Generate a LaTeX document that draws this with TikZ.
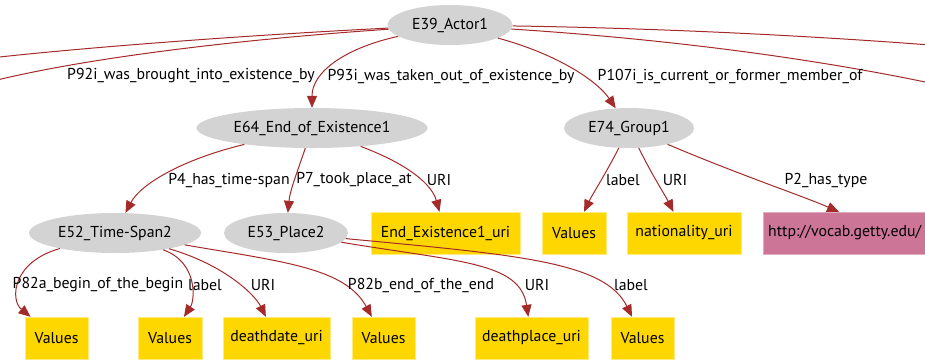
\documentclass[tikz,border=0pt]{standalone}
\usepackage{fontspec}
\setmainfont{PT Sans}
\usetikzlibrary{shapes.geometric,arrows.meta}
\definecolor{edgered}{RGB}{165,42,42}
\definecolor{clsgray}{RGB}{211,211,211}
\definecolor{litgold}{RGB}{255,215,0}
\definecolor{uripink}{RGB}{204,117,150}
\tikzset{
cls/.style={ellipse,fill=clsgray,minimum height=40pt,inner sep=0pt},
lit/.style={rectangle,fill=litgold,draw=litgold!50!white,minimum height=42pt,inner sep=0pt},
link/.style={draw=edgered,line width=1pt,-{Triangle[length=12pt,width=10pt]}},
wire/.style={draw=edgered,line width=1pt},
tag/.style={inner sep=0pt}
}
\begin{document}
\begin{tikzpicture}[x=1pt,y=-1pt,font=\fontsize{15.8}{18}\selectfont]
\useasboundingbox (0,0) rectangle (925,360);
\clip (0,0) rectangle (925,360);
% classes
\node[cls,minimum width=125pt] (A) at (450,25) {E39\_Actor1};
\node[cls,minimum width=231pt] (E) at (312,128) {E64\_End\_of\_Existence1};
\node[cls,minimum width=130pt] (G) at (629,128) {E74\_Group1};
\node[cls,minimum width=172pt] (T) at (115,233) {E52\_Time-Span2};
\node[cls,minimum width=124pt] (S) at (286,233) {E53\_Place2};
% literals
\node[lit,minimum width=149pt] (Eu) at (445.5,233) {End\_Existence1\_uri};
\node[lit,minimum width=64pt] (Gv) at (574,233) {Values};
\node[lit,minimum width=114pt] (Gn) at (684,233) {nationality\_uri};
\node[lit,fill=uripink,draw=uripink!60!white,minimum width=250pt,anchor=west,text width=240pt] (Gt) at (763,233) {http://vocab.getty.edu/};
\node[lit,minimum width=63pt] (Tb) at (56.5,338) {Values};
\node[lit,minimum width=64pt] (Tl) at (170,338) {Values};
\node[lit,minimum width=107pt] (Tu) at (276.5,338) {deathdate\_uri};
\node[lit,minimum width=63pt] (Te) at (383.5,338) {Values};
\node[lit,minimum width=113pt] (Su) at (531.5,338) {deathplace\_uri};
\node[lit,minimum width=63pt] (Sl) at (642.5,338) {Values};
% loose ends
\coordinate (w1) at (-5,57.5);
\coordinate (w2) at (-5,80.5);
\coordinate (e1) at (930,45);
\coordinate (e2) at (930,83);
% edges
\path[wire] (A) .. controls (250,35) and (90,47) .. (w1);
\path[wire] (A) .. controls (260,38) and (100,55) .. (w2);
\path[wire] (A) .. controls (650,28) and (800,35) .. (e1);
\path[wire] (A) .. controls (680,40) and (820,60) .. (e2);
\path[link] (A) .. controls (345,48) and (312,72) .. (E);
\path[link] (A) .. controls (560,55) and (598,82) .. (G);
\path[link] (E) .. controls (180,160) and (140,185) .. (T);
\path[link] (E) .. controls (298,170) and (290,190) .. (S);
\path[link] (E) .. controls (410,165) and (432,185) .. (Eu);
\path[link] (G) .. controls (605,175) and (592,195) .. (Gv);
\path[link] (G) .. controls (652,175) and (665,195) .. (Gn);
\path[link] (G) .. controls (740,175) and (800,195) .. (Gt);
\path[link] (T) .. controls (12,262) and (10,300) .. (Tb);
\path[link] (T) .. controls (198,262) and (195,300) .. (Tl);
\path[link] (T) .. controls (225,265) and (255,295) .. (Tu);
\path[link] (T) .. controls (285,262) and (345,268) .. (Te);
\path[link] (S) .. controls (460,262) and (520,262) .. (Su);
\path[link] (S) .. controls (520,255) and (605,262) .. (Sl);
% edge labels
\node[tag] (p92) at (191,76) {P92i\_was\_brought\_into\_existence\_by};
\node[tag] (p93) at (451,76) {P93i\_was\_taken\_out\_of\_existence\_by};
\node[tag] (p107) at (730,76) {P107i\_is\_current\_or\_former\_member\_of};
\node[tag] (p4) at (229,180) {P4\_has\_time-span};
\node[tag] (p7) at (354,180) {P7\_took\_place\_at};
\node[tag] (q1) at (439,180) {URI};
\node[tag] (q2) at (623,180) {label};
\node[tag] (q3) at (675,180) {URI};
\node[tag] (p2) at (826,180) {P2\_has\_type};
\node[tag] (p82a) at (98,285) {P82a\_begin\_of\_the\_begin};
\node[tag] (q4) at (205,285) {label};
\node[tag] (q5) at (263,285) {URI};
\node[tag] (p82b) at (421,285) {P82b\_end\_of\_the\_end};
\node[tag] (q6) at (537,285) {URI};
\node[tag] (q7) at (631,285) {label};
\end{tikzpicture}
\end{document}
